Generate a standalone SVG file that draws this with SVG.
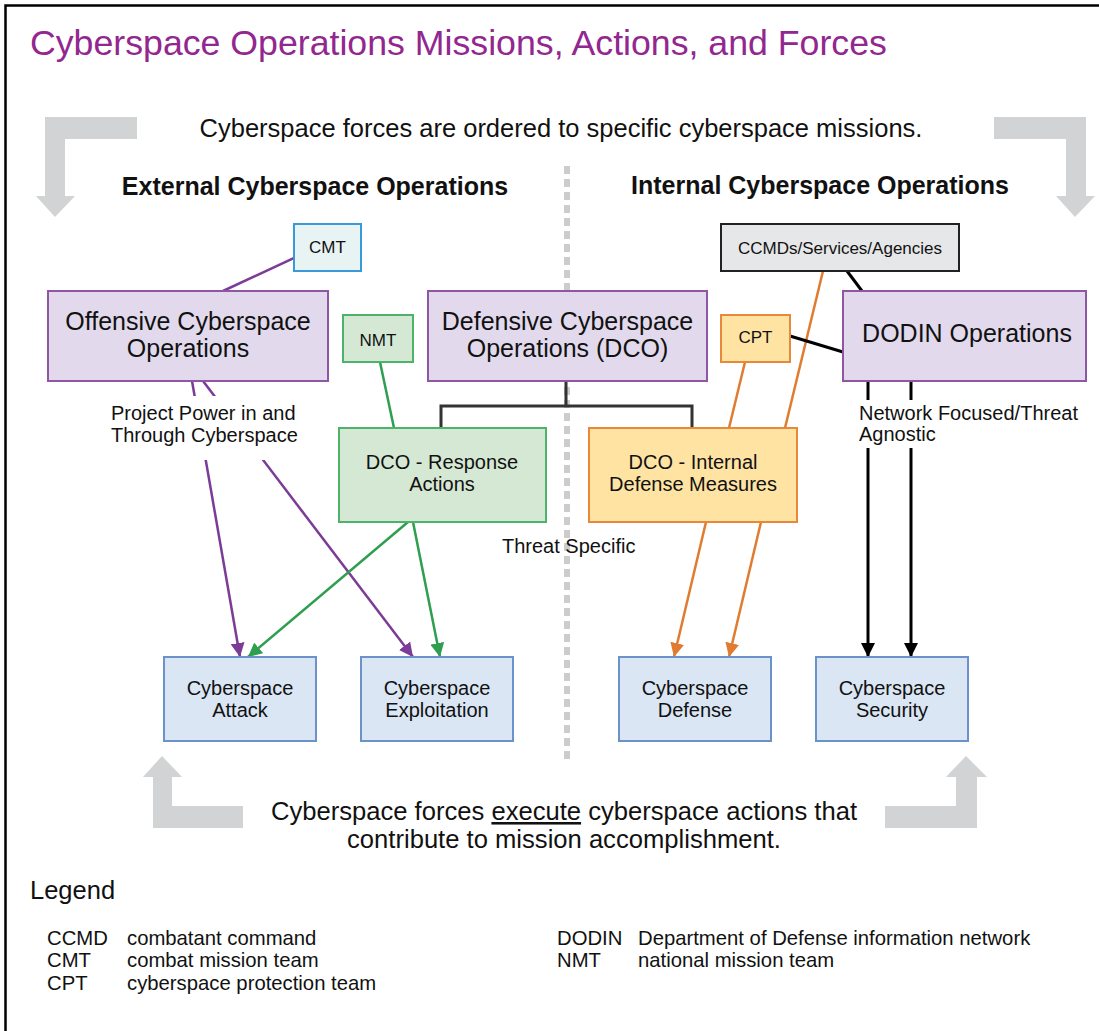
<svg xmlns="http://www.w3.org/2000/svg" width="1099" height="1031" viewBox="0 0 1099 1031">
<style>
  text { font-family: "Liberation Sans", Arial, sans-serif; fill: #111; }
  .big { font-size: 25px; text-anchor: middle; }
  .mid { font-size: 20px; text-anchor: middle; }
  .sm { font-size: 17px; text-anchor: middle; }
  .lbl { font-size: 20px; }
  .purple { fill: #E2DAEC; stroke: #8E57A3; stroke-width: 2; }
  .green { fill: #D5E8D4; stroke: #4DB36A; stroke-width: 2; }
  .orange { fill: #FFE3A3; stroke: #E8893A; stroke-width: 2; }
  .blue { fill: #DAE6F4; stroke: #6B93C9; stroke-width: 2; }
  .gray { fill: #E6E7E8; stroke: #222; stroke-width: 2; }
  .cyan { fill: #E8F4F4; stroke: #3A9AD9; stroke-width: 2; }
  .lp { stroke: #7B3B96; stroke-width: 2.5; }
  .lg { stroke: #2E9E4F; stroke-width: 2.5; }
  .lo { stroke: #E07B30; stroke-width: 2.5; }
  .lk { stroke: #000; stroke-width: 3; }
  .lt { stroke: #333; stroke-width: 3; fill: none; }
  .bigarrow { fill: #D1D3D4; }
</style>
<defs>
  <marker id="ap" markerUnits="userSpaceOnUse" markerWidth="14" markerHeight="14" refX="14" refY="7" orient="auto"><path d="M0,0 L14,7 L0,14 z" fill="#7B3B96"/></marker>
  <marker id="ag" markerUnits="userSpaceOnUse" markerWidth="14" markerHeight="14" refX="14" refY="7" orient="auto"><path d="M0,0 L14,7 L0,14 z" fill="#2E9E4F"/></marker>
  <marker id="ao" markerUnits="userSpaceOnUse" markerWidth="14" markerHeight="14" refX="14" refY="7" orient="auto"><path d="M0,0 L14,7 L0,14 z" fill="#E07B30"/></marker>
  <marker id="ak" markerUnits="userSpaceOnUse" markerWidth="14" markerHeight="14" refX="14" refY="7" orient="auto"><path d="M0,0 L14,7 L0,14 z" fill="#000"/></marker>
</defs>
<rect x="0" y="0" width="1099" height="1031" fill="#fff"/>
<path d="M5.5,1031 V5.5 H1099" fill="none" stroke="#000" stroke-width="2.5"/>

<text x="30" y="55" style="font-size:35.7px; fill:#92278F;">Cyberspace Operations Missions, Actions, and Forces</text>

<g id="big-arrows">
  <polygon class="bigarrow" points="45,117 137,117 137,139 65,139 65,196 75,196 55,217 36,196 45,196"/>
  <polygon class="bigarrow" points="1086,117 994,117 994,139 1066,139 1066,196 1095,196 1075,217 1056,196 1086,196"/>
  <polygon class="bigarrow" points="153,777 143,777 162,756 182,777 172,777 172,806 243,806 243,828 153,828"/>
  <polygon class="bigarrow" points="977,777 987,777 966,756 946,777 956,777 956,806 885,806 885,828 977,828"/>
</g>

<text x="561" y="137" style="font-size:25.5px; text-anchor:middle;">Cyberspace forces are ordered to specific cyberspace missions.</text>
<text x="315" y="195" style="font-size:25px; font-weight:bold; text-anchor:middle;">External Cyberspace Operations</text>
<text x="820" y="194" style="font-size:25px; font-weight:bold; text-anchor:middle;">Internal Cyberspace Operations</text>

<line x1="567" y1="166" x2="567" y2="759" stroke="#CCCCCC" stroke-width="6" stroke-dasharray="8,5"/>

<g id="connectors">
  <line class="lp" x1="309" y1="251" x2="223" y2="291"/>
  <line class="lg" x1="380" y1="362" x2="394" y2="428"/>
  <path class="lt" d="M566,381 V406 M441,428 V406 H692 V428"/>
  <line class="lp" x1="192" y1="381" x2="240" y2="657" marker-end="url(#ap)"/>
  <line class="lp" x1="203" y1="381" x2="413" y2="657" marker-end="url(#ap)"/>
  <line class="lg" x1="408" y1="522" x2="248" y2="657" marker-end="url(#ag)"/>
  <line class="lg" x1="413" y1="522" x2="440" y2="657" marker-end="url(#ag)"/>
  <line class="lo" x1="745" y1="362" x2="729" y2="428"/>
  <line class="lo" x1="823" y1="271" x2="785" y2="428"/>
  <line class="lk" x1="847" y1="271" x2="862" y2="291"/>
  <line class="lk" x1="790" y1="336" x2="843" y2="352"/>
  <line class="lk" x1="868" y1="381" x2="868" y2="657" marker-end="url(#ak)"/>
  <line class="lk" x1="911" y1="381" x2="911" y2="657" marker-end="url(#ak)"/>
  <line class="lo" x1="706" y1="522" x2="674" y2="657" marker-end="url(#ao)"/>
  <line class="lo" x1="761" y1="522" x2="729" y2="657" marker-end="url(#ao)"/>
</g>

<g id="label-project">
  <rect x="94" y="396" width="222" height="64" fill="#fff"/>
  <text class="lbl" x="111" y="420">Project Power in and</text>
  <text class="lbl" x="111" y="442">Through Cyberspace</text>
</g>
<g id="label-network">
  <rect x="852" y="400" width="235" height="48" fill="#fff"/>
  <text class="lbl" x="859" y="420">Network Focused/Threat</text>
  <text class="lbl" x="859" y="441">Agnostic</text>
</g>
<text class="lbl" x="502" y="553">Threat Specific</text>

<g id="node-cmt">
  <rect class="cyan" x="294" y="224" width="67" height="47"/>
  <text class="sm" x="327.5" y="253">CMT</text>
</g>
<g id="node-oco">
  <rect class="purple" x="48" y="291" width="280" height="90"/>
  <text class="big" x="188" y="330">Offensive Cyberspace</text>
  <text class="big" x="188" y="357">Operations</text>
</g>
<g id="node-nmt">
  <rect class="green" x="343" y="315" width="70" height="47"/>
  <text class="sm" x="378" y="346">NMT</text>
</g>
<g id="node-dco">
  <rect class="purple" x="428" y="291" width="279" height="90"/>
  <text class="big" x="567.5" y="330">Defensive Cyberspace</text>
  <text class="big" x="567.5" y="357">Operations (DCO)</text>
</g>
<g id="node-ccmd">
  <rect class="gray" x="721" y="224" width="238" height="47"/>
  <text class="sm" x="840" y="254">CCMDs/Services/Agencies</text>
</g>
<g id="node-cpt">
  <rect class="orange" x="721" y="315" width="69" height="47"/>
  <text class="sm" x="755.5" y="343">CPT</text>
</g>
<g id="node-dodin">
  <rect class="purple" x="843" y="291" width="243" height="90"/>
  <text class="big" x="967" y="342">DODIN Operations</text>
</g>
<g id="node-dco-ra">
  <rect class="green" x="339" y="428" width="207" height="94"/>
  <text class="mid" x="442" y="469">DCO - Response</text>
  <text class="mid" x="442" y="491">Actions</text>
</g>
<g id="node-dco-idm">
  <rect class="orange" x="589" y="428" width="208" height="94"/>
  <text class="mid" x="693" y="469">DCO - Internal</text>
  <text class="mid" x="693" y="491">Defense Measures</text>
</g>
<g id="node-attack">
  <rect class="blue" x="164" y="657" width="152" height="84"/>
  <text class="mid" x="240" y="695">Cyberspace</text>
  <text class="mid" x="240" y="717">Attack</text>
</g>
<g id="node-exploitation">
  <rect class="blue" x="361" y="657" width="152" height="84"/>
  <text class="mid" x="437" y="695">Cyberspace</text>
  <text class="mid" x="437" y="717">Exploitation</text>
</g>
<g id="node-defense">
  <rect class="blue" x="619" y="657" width="152" height="84"/>
  <text class="mid" x="695" y="695">Cyberspace</text>
  <text class="mid" x="695" y="717">Defense</text>
</g>
<g id="node-security">
  <rect class="blue" x="816" y="657" width="152" height="84"/>
  <text class="mid" x="892" y="695">Cyberspace</text>
  <text class="mid" x="892" y="717">Security</text>
</g>

<text x="564" y="820" style="font-size:25.6px; text-anchor:middle;">Cyberspace forces <tspan text-decoration="underline">execute</tspan> cyberspace actions that</text>
<text x="564" y="848" style="font-size:25.6px; text-anchor:middle;">contribute to mission accomplishment.</text>

<g id="legend" style="font-size:20.3px;">
  <text x="30" y="899" style="font-size:25.5px;">Legend</text>
  <text x="47" y="945">CCMD</text><text x="127" y="945">combatant command</text>
  <text x="47" y="967">CMT</text><text x="127" y="967">combat mission team</text>
  <text x="47" y="990">CPT</text><text x="127" y="990">cyberspace protection team</text>
  <text x="557" y="945">DODIN</text><text x="638" y="945">Department of Defense information network</text>
  <text x="557" y="967">NMT</text><text x="638" y="967">national mission team</text>
</g>
</svg>
